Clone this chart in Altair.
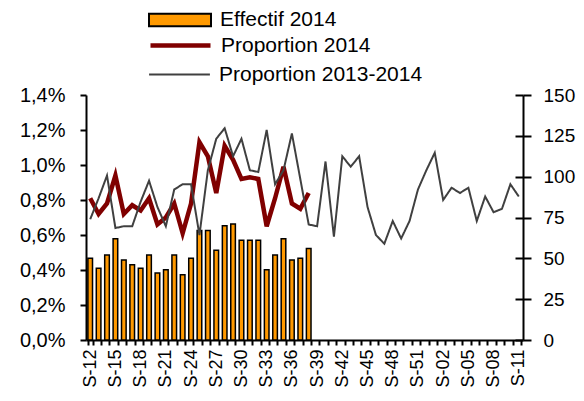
import json
import altair as alt
import pandas as pd

weeks = ["S-12", "S-13", "S-14", "S-15", "S-16", "S-17", "S-18", "S-19", "S-20", "S-21",
         "S-22", "S-23", "S-24", "S-25", "S-26", "S-27", "S-28", "S-29", "S-30", "S-31",
         "S-32", "S-33", "S-34", "S-35", "S-36", "S-37", "S-38", "S-39", "S-40", "S-41",
         "S-42", "S-43", "S-44", "S-45", "S-46", "S-47", "S-48", "S-49", "S-50", "S-51",
         "S-52", "S-01", "S-02", "S-03", "S-04", "S-05", "S-06", "S-07", "S-08", "S-09",
         "S-10", "S-11"]

# Proportion 2013-2014 (%), all weeks
prop_1314 = [0.69, 0.81, 0.94, 0.64, 0.65, 0.65, 0.79, 0.91, 0.76, 0.65,
             0.86, 0.89, 0.89, 0.60, 0.97, 1.15, 1.21, 1.05, 1.15, 0.97,
             0.96, 1.20, 0.89, 0.97, 1.18, 0.92, 0.66, 0.65, 1.02, 0.59,
             1.05, 0.99, 1.05, 0.76, 0.60, 0.55, 0.68, 0.58, 0.68, 0.86,
             0.97, 1.07, 0.80, 0.87, 0.84, 0.87, 0.68, 0.82, 0.73, 0.75,
             0.89, 0.82]

# 2014 weeks S-12 .. S-38
effectif_2014 = [50, 44, 52, 62, 49, 46, 44, 52, 41, 43, 52, 40, 50, 67, 67, 55,
                 70, 71, 61, 61, 61, 43, 52, 62, 49, 50, 56]
prop_2014 = [0.81, 0.72, 0.78, 0.94, 0.72, 0.77, 0.74, 0.81, 0.66, 0.70, 0.78, 0.61,
             0.78, 1.13, 1.05, 0.84, 1.11, 1.03, 0.92, 0.93, 0.92, 0.65, 0.81, 0.99,
             0.78, 0.75, 0.84]

df_all = pd.DataFrame({"week": weeks, "prop": prop_1314, "serie": "Proportion 2013-2014"})
df_2014 = pd.DataFrame({"week": weeks[:len(effectif_2014)], "effectif": effectif_2014,
                        "prop": prop_2014})

FONT = "Liberation Sans"
shown = json.dumps(weeks[::3])

x_enc = alt.X(
    "week:N", sort=weeks,
    scale=alt.Scale(domain=weeks, paddingInner=0.45, paddingOuter=0.225),
    axis=alt.Axis(title=None, labelAngle=-90, labelFontSize=18, labelFont=FONT,
                  labelColor="black", labelExpr=f"indexof({shown}, datum.value) >= 0 ? datum.value : ''",
                  labelOverlap=False, tickBand="extent", tickSize=5, tickWidth=2,
                  tickColor="black", domainColor="black", domainWidth=2, labelPadding=4,
                  grid=False),
)

LEG = dict(title=None, orient="none", legendX=62, labelFontSize=21, labelFont=FONT,
           labelColor="black", labelOffset=8, labelLimit=0, padding=0)

bars = alt.Chart(df_2014).transform_calculate(serie="'Effectif 2014'").mark_bar(
    stroke="black", strokeWidth=1.5
).encode(
    x=x_enc,
    y=alt.Y("effectif:Q", scale=alt.Scale(domain=[0, 150]),
            axis=alt.Axis(orient="right", title=None, values=[0, 25, 50, 75, 100, 125, 150],
                          grid=False, tickSize=8, tickWidth=2, tickColor="black",
                          domainColor="black", domainWidth=2, labelFontSize=19,
                          labelFont=FONT, labelColor="black", labelPadding=12)),
    fill=alt.Fill("serie:N", scale=alt.Scale(domain=["Effectif 2014"], range=["#FF9900"]),
                  legend=alt.Legend(legendY=-107, symbolType="M-1,-0.2H1V0.2H-1Z",
                                    symbolSize=3844, symbolStrokeColor="black",
                                    symbolStrokeWidth=2, **LEG)),
)

left_axis = alt.Axis(title=None, values=[0, 0.2, 0.4, 0.6, 0.8, 1.0, 1.2, 1.4], grid=False,
                     labelExpr="replace(format(datum.value, '.1f'), '.', ',') + '%'",
                     tickSize=6, tickWidth=2, tickColor="black", domainColor="black",
                     domainWidth=2, labelFontSize=20, labelFont=FONT, labelColor="black",
                     labelPadding=15)

red = alt.Chart(df_2014).transform_calculate(serie="'Proportion 2014'").mark_line(
    strokeWidth=4.5
).encode(
    x=alt.X("week:N", sort=weeks),
    y=alt.Y("prop:Q", scale=alt.Scale(domain=[0, 1.4]), axis=left_axis),
    stroke=alt.Stroke("serie:N", scale=alt.Scale(domain=["Proportion 2014"], range=["#800000"]),
                      legend=alt.Legend(legendY=-82, symbolType="stroke", symbolSize=3600,
                                        symbolStrokeWidth=4.5, **LEG)),
)

gray = alt.Chart(df_all).mark_line(strokeWidth=2, color="#404040").encode(
    x=alt.X("week:N", sort=weeks),
    y=alt.Y("prop:Q", scale=alt.Scale(domain=[0, 1.4]), axis=left_axis),
    strokeDash=alt.StrokeDash("serie:N", scale=alt.Scale(domain=["Proportion 2013-2014"], range=[[1, 0]]),
                              legend=alt.Legend(legendY=-52, symbolType="stroke", symbolSize=3700,
                                                symbolStrokeColor="#404040",
                                                symbolStrokeWidth=2, **LEG)),
)

cross = alt.Chart(df_2014).mark_point(opacity=0).encode(
    x=alt.X("week:N", sort=weeks),
    y=alt.Y("effectif:Q", scale=alt.Scale(domain=[0, 150]),
            axis=alt.Axis(orient="left", offset=-437, title=None, labels=False, domain=False,
                          values=[0, 25, 50, 75, 100, 125, 150], grid=False, tickSize=8,
                          tickWidth=2, tickColor="black")),
)

lines = alt.layer(red, gray)

chart = alt.layer(bars, lines, cross).resolve_scale(y="independent").properties(
    width=437, height=245,
    autosize=alt.AutoSizeParams(type="none"),
    padding={"left": 78, "top": 87, "right": 53, "bottom": 52},
).configure_view(stroke=None)

chart.save("out.html", embed_options={"renderer": "svg", "actions": False})
